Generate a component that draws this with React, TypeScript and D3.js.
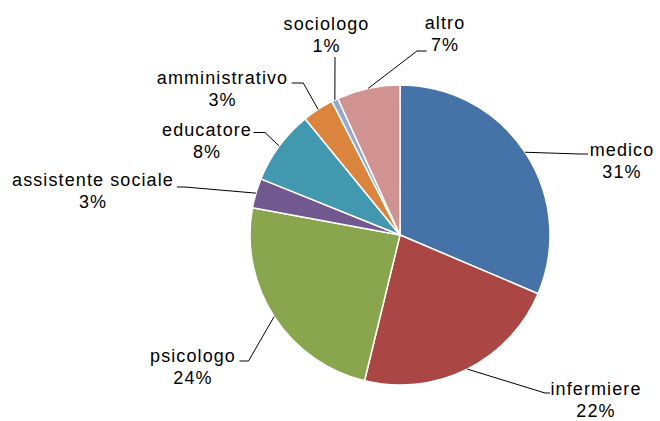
import { useRef, useEffect } from 'react'
import * as d3 from 'd3'

// Professional roles, share of respondents (%)
const categories = [
  'medico',
  'infermiere',
  'psicologo',
  'assistente sociale',
  'educatore',
  'amministrativo',
  'sociologo',
  'altro',
]
const values = [31.4, 22.4, 24.1, 3.2, 8.0, 3.4, 0.7, 6.8]
const colors = ['#4572A7', '#AA4643', '#89A54E', '#71588F', '#4198AF', '#DB843D', '#93A9CF', '#D19392']

// Label placement, relative to pie center: text center / first baseline, leader elbow and end
const labelLayout = [
  { tx: 222, ty: -79, elbow: [180, -81], end: [188, -81] },
  { tx: 196, ty: 160, elbow: [145, 158], end: [150, 158] },
  { tx: -207, ty: 127, elbow: [-151.5, 126], end: [-160.5, 126] },
  { tx: -307, ty: -49, elbow: [-215, -48], end: [-223, -48] },
  { tx: -193, ty: -99.5, elbow: [-135, -102.5], end: [-146.5, -102.5] },
  { tx: -177.5, ty: -151.5, elbow: [-96.7, -152], end: [-108.3, -152] },
  { tx: -73.5, ty: -205, elbow: [-65, -178], end: [-65, -178] },
  { tx: 45, ty: -206.5, elbow: [17, -184], end: [26.7, -184] },
]

const WIDTH = 660
const HEIGHT = 421

export default function App() {
  const svgRef = useRef<SVGSVGElement | null>(null)

  useEffect(() => {
    if (!svgRef.current) return
    const svg = d3.select(svgRef.current)
    svg.selectAll('*').remove()

    const cx = 400
    const cy = 235
    const radius = 150
    const total = d3.sum(values)

    const data = categories.map((name, i) => ({ name, value: values[i], color: colors[i] }))

    const pie = d3.pie<any>()
      .value(d => d.value)
      .sort(null)

    const arcs = pie(data)

    const arc = d3.arc<any>()
      .innerRadius(0)
      .outerRadius(radius)

    const edgeArc = d3.arc<any>()
      .innerRadius(radius)
      .outerRadius(radius)

    const g = svg.append('g').attr('transform', `translate(${cx},${cy})`)

    // Slices
    g.selectAll('path.slice')
      .data(arcs)
      .enter()
      .append('path')
      .attr('class', 'slice')
      .attr('d', arc)
      .attr('fill', d => d.data.color)
      .attr('stroke', '#ffffff')
      .attr('stroke-width', 1.5)
      .attr('stroke-linejoin', 'round')

    // Leader lines
    const line = d3.line<number[]>()
    arcs.forEach((a, i) => {
      const lay = labelLayout[i]
      const start = edgeArc.centroid(a)
      g.append('path')
        .attr('d', line([start, lay.elbow, lay.end]))
        .attr('fill', 'none')
        .attr('stroke', '#000')
        .attr('stroke-width', 1)
    })

    // Labels
    arcs.forEach((a, i) => {
      const lay = labelLayout[i]
      const pct = Math.round((a.data.value / total) * 100)
      const text = g.append('text')
        .attr('x', lay.tx)
        .attr('y', lay.ty)
        .attr('text-anchor', 'middle')
        .attr('font-family', '"Liberation Sans", Arial, sans-serif')
        .attr('font-size', '18px')
        .attr('letter-spacing', '1.1px')
        .attr('fill', '#000')
      text.append('tspan')
        .attr('x', lay.tx)
        .text(a.data.name)
      text.append('tspan')
        .attr('x', lay.tx)
        .attr('dy', 22)
        .text(`${pct}%`)
    })
  }, [])

  return (
    <svg
      ref={svgRef}
      width={WIDTH}
      height={HEIGHT}
      style={{ position: 'absolute', left: 0, top: 0, display: 'block', background: '#fff' }}
    />
  )
}
